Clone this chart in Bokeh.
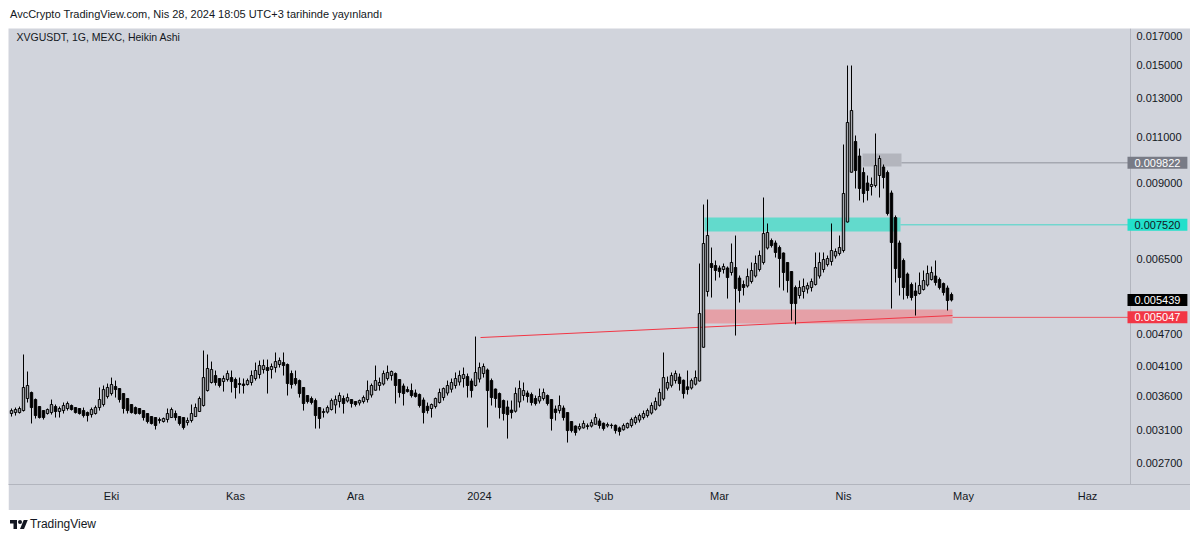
import pandas as pd
from bokeh.plotting import figure
from bokeh.models import (Range1d, FixedTicker, PrintfTickFormatter, Label, Div,
                          ColumnDataSource, LogAxis)
from bokeh.layouts import column
from bokeh.embed import file_html
from bokeh.resources import INLINE

# ---------------- data (Heikin Ashi candles, daily, XVG/USDT) ----------------
first_day = "2023-09-06"

ha_open = [
    .003335, .003349, .003349, .003378, .003558, .003651, .003542, .003437, .003378, .003335,
    .003349, .003437, .003364, .003378, .003408, .003452, .003422, .003408, .003378, .003349,
    .003320, .003335, .003422, .003467, .003589, .003635, .003747, .003714, .003635, .003558,
    .003467, .003422, .003408, .003378, .003335, .003292, .003278, .003236, .003222, .003250,
    .003278, .003335, .003292, .003278, .003208, .003236, .003292, .003364, .003452, .003682,
    .003812, .003928, .003878, .003828, .003861, .003894, .003861, .003795, .003787, .003779,
    .003812, .003878, .003945, .004031, .004066, .004031, .004066, .004119, .004154, .004119,
    .003962, .003878, .003844, .003731, .003604, .003558, .003527, .003422, .003349, .003356,
    .003393, .003460, .003512, .003558, .003520, .003542, .003512, .003490, .003512, .003542,
    .003612, .003687, .003763, .003787, .003878, .003928, .003962, .003861, .003755, .003698,
    .003682, .003643, .003620, .003535, .003441, .003408, .003437, .003497, .003573, .003643,
    .003703, .003763, .003820, .003878, .003911, .003836, .003763, .003869, .003962, .004023,
    .003844, .003706, .003635, .003527, .003430, .003386, .003368, .003505, .003604, .003643,
    .003620, .003558, .003520, .003558, .003604, .003542, .003400, .003378, .003415, .003349,
    .003222, .003160, .003122, .003135, .003164, .003159, .003184, .003230, .003198, .003162,
    .003171, .003170, .003135, .003110, .003138, .003167, .003208, .003243, .003278, .003306,
    .003342, .003397, .003455, .003552, .003719, .003766, .003844, .003903, .003849, .003741,
    .003723, .003784, .003837, .004437, .005642, .006365, .006310, .006243, .006203, .006243,
    .006123, .006256, .005979, .005814, .005777, .005890, .006031, .006203, .006393, .006804,
    .007028, .006953, .006819, .006660, .006393, .006149, .005739, .005545, .005642, .005702,
    .005739, .005814, .006031, .006203, .006337, .006420, .006574, .006645, .006732, .007612,
    .009432, .010767, .010115, .009420, .009005, .008870, .008908, .009300, .009646, .009420,
    .008625, .007761, .006953, .006448, .006083, .005814, .005654, .005593, .005690, .005802,
    .005940, .006031, .005940, .005839, .005727, .005569,
]

ha_high = [
    .003408, .003422, .003437, .004301, .003997, .003666, .003558, .003437, .003378, .003408,
    .003542, .003467, .003437, .003497, .003512, .003467, .003422, .003408, .003422, .003364,
    .003422, .003452, .003731, .003763, .003795, .003894, .003844, .003714, .003635, .003558,
    .003467, .003437, .003408, .003378, .003335, .003292, .003278, .003278, .003278, .003408,
    .003422, .003378, .003292, .003278, .003278, .003467, .003482, .003589, .004375, .004301,
    .004172, .004014, .003878, .003928, .004014, .004014, .003894, .003894, .003878, .003878,
    .004014, .004154, .004190, .004208, .004208, .004137, .004338, .004245, .004338, .004137,
    .004014, .004014, .003861, .003731, .003604, .003589, .003558, .003422, .003408, .003452,
    .003558, .003604, .003651, .003604, .003635, .003542, .003512, .003542, .003604, .003844,
    .003795, .004101, .003894, .004014, .004101, .004014, .003980, .003861, .003795, .003747,
    .003795, .003698, .003635, .003573, .003497, .003482, .003573, .003714, .003731, .003844,
    .003878, .003980, .004014, .004066, .003962, .003878, .004647, .004154, .004137, .004049,
    .003878, .003714, .003651, .003542, .003527, .003527, .003731, .003844, .003812, .003682,
    .003651, .003604, .003714, .003714, .003620, .003542, .003452, .003604, .003452, .003349,
    .003222, .003167, .003195, .003236, .003195, .003250, .003335, .003264, .003208, .003208,
    .003195, .003181, .003153, .003195, .003208, .003278, .003306, .003335, .003378, .003408,
    .003497, .003573, .003714, .004338, .003911, .003980, .004014, .003962, .003861, .004014,
    .003878, .004014, .006365, .008207, .008386, .006819, .006448, .006310, .006365, .006283,
    .006938, .007181, .006044, .005915, .006229, .006393, .006588, .006732, .008459, .007563,
    .007089, .007028, .006878, .006674, .006393, .006149, .005789, .005915, .005966, .005864,
    .005966, .006674, .006674, .006674, .006588, .007563, .006790, .007181, .010629, .014938,
    .014938, .011049, .010447, .009626, .009300, .009220, .011145, .010137, .009751, .009502,
    .008718, .007828, .007028, .006504, .006123, .005864, .005864, .006123, .006176, .006310,
    .006283, .006448, .005992, .005864, .005789, .005617,
]

ha_low = [
    .003292, .003306, .003335, .003364, .003497, .003195, .003264, .003264, .003250, .003320,
    .003320, .003278, .003278, .003335, .003378, .003378, .003335, .003320, .003278, .003222,
    .003278, .003320, .003378, .003437, .003558, .003604, .003573, .003497, .003335, .003335,
    .003335, .003320, .003320, .003236, .003195, .003181, .003113, .003195, .003208, .003208,
    .003278, .003236, .003167, .003113, .003167, .003208, .003292, .003364, .003437, .003666,
    .003795, .003763, .003731, .003666, .003828, .003651, .003558, .003635, .003635, .003763,
    .003763, .003844, .003878, .003962, .003635, .003878, .003980, .004066, .003928, .003604,
    .003714, .003763, .003573, .003378, .003482, .003467, .003126, .003126, .003278, .003335,
    .003378, .003335, .003422, .003335, .003497, .003422, .003437, .003452, .003482, .003497,
    .003573, .003682, .003682, .003763, .003844, .003844, .003482, .003573, .003452, .003651,
    .003573, .003573, .003422, .003195, .003335, .003278, .003408, .003482, .003527, .003604,
    .003651, .003714, .003763, .003731, .003573, .003573, .003747, .003812, .003894, .003140,
    .003452, .003422, .003264, .003236, .002994, .003264, .003349, .003422, .003527, .003497,
    .003452, .003452, .003482, .003527, .003452, .003099, .003236, .003335, .003236, .002943,
    .003073, .003033, .003099, .003126, .003113, .003140, .003181, .003126, .003099, .003140,
    .003126, .003059, .003033, .003099, .003126, .003140, .003181, .003208, .003250, .003278,
    .003320, .003378, .003437, .003527, .003682, .003731, .003795, .003682, .003558, .003620,
    .003698, .003763, .003828, .004432, .005521, .005497, .005915, .005992, .006096, .005473,
    .006044, .004667, .005380, .005545, .005739, .005839, .005992, .006149, .006337, .006761,
    .006819, .006531, .005739, .005666, .005617, .004979, .004894, .005473, .005473, .005593,
    .005642, .005789, .005966, .006123, .006283, .006310, .006504, .006588, .006674, .007595,
    .009420, .008794, .008350, .008278, .008350, .008532, .008832, .008459, .008794, .007828,
    .005243, .005864, .005545, .005450, .005473, .005427, .005087, .005569, .005666, .005764,
    .005915, .005789, .005690, .005545, .005198, .005404,
]

ha_close = [
    .003378, .003393, .003408, .003731, .003763, .003422, .003306, .003278, .003278, .003393,
    .003467, .003364, .003408, .003452, .003482, .003393, .003349, .003335, .003306, .003306,
    .003393, .003422, .003542, .003698, .003731, .003779, .003698, .003542, .003408, .003378,
    .003349, .003335, .003335, .003278, .003222, .003195, .003167, .003250, .003264, .003335,
    .003393, .003278, .003195, .003140, .003236, .003335, .003422, .003558, .003894, .004049,
    .004031, .003812, .003763, .003878, .003962, .003828, .003731, .003779, .003763, .003844,
    .003928, .004014, .004101, .004101, .004014, .004084, .004172, .004190, .004101, .003795,
    .003779, .003795, .003635, .003482, .003512, .003497, .003306, .003264, .003364, .003422,
    .003527, .003542, .003604, .003482, .003573, .003482, .003467, .003527, .003573, .003682,
    .003763, .003844, .003812, .003962, .003980, .003997, .003763, .003651, .003635, .003666,
    .003604, .003589, .003452, .003349, .003378, .003467, .003558, .003651, .003714, .003763,
    .003812, .003878, .003928, .003945, .003763, .003682, .003980, .004066, .004084, .003682,
    .003573, .003558, .003422, .003335, .003320, .003349, .003635, .003714, .003682, .003589,
    .003497, .003482, .003589, .003651, .003482, .003264, .003349, .003452, .003278, .003099,
    .003099, .003073, .003153, .003195, .003153, .003208, .003278, .003167, .003126, .003181,
    .003167, .003099, .003086, .003167, .003195, .003250, .003278, .003306, .003335, .003378,
    .003452, .003512, .003651, .003894, .003812, .003928, .003962, .003795, .003635, .003698,
    .003844, .003894, .005131, .006938, .007181, .006256, .006176, .006149, .006283, .005992,
    .006393, .005715, .005666, .005740, .006018, .006176, .006365, .006588, .007243, .007275,
    .006878, .006674, .006504, .006123, .005915, .005357, .005357, .005739, .005764, .005789,
    .005890, .006256, .006393, .006476, .006504, .006732, .006703, .006819, .008606, .011685,
    .012305, .009502, .008794, .008606, .008718, .008946, .009709, .010007, .009220, .007896,
    .006968, .006229, .005992, .005739, .005545, .005497, .005545, .005789, .005915, .006096,
    .006123, .005864, .005739, .005617, .005427, .005439,
]

month_starts = ["2023-10-01", "2023-11-01", "2023-12-01", "2024-01-01", "2024-02-01",
                "2024-03-01", "2024-04-01", "2024-05-01", "2024-06-01"]
month_labels = ["Eki", "Kas", "Ara", "2024", "Şub", "Mar", "Nis", "May", "Haz"]
price_ticks = [0.0027, 0.0031, 0.0036, 0.0041, 0.0047, 0.0065, 0.009, 0.011, 0.013, 0.015, 0.017]

# drawn zones: (start, end, bottom, top)
grey_zone = ("2024-04-05 18:00", "2024-04-15 12:00", 0.009667, 0.010230)
cyan_zone = ("2024-02-26 06:00", "2024-04-15 06:00", 0.007306, 0.007761)
red_zone = ("2024-02-26 06:00", "2024-04-28 06:00", 0.004915, 0.005220)
trend_line = (("2024-01-01 06:00", 0.004627), ("2024-04-28 06:00", 0.005087))
level_grey = 0.009822
level_cyan = 0.007520
level_red = 0.005047
last_price = 0.005439

view_start = "2023-09-05 06:00"     # left edge of the pane
scale_at = "2024-06-11 18:00"       # where the price scale begins
view_end = "2024-06-26 18:00"       # right edge (end of price-scale column)
price_low, price_high = 0.0024564, 0.017521

# ---------------- helpers ----------------
origin = pd.Timestamp("2023-10-01")


def day(ts):
    return (pd.Timestamp(ts) - origin) / pd.Timedelta(days=1)


dates = pd.date_range(first_day, periods=len(ha_close), freq="D")
xs = [day(d) for d in dates]
up = [c >= o for o, c in zip(ha_open, ha_close)]
src = ColumnDataSource(dict(
    x=xs, high=ha_high, low=ha_low,
    top=[max(o, c) for o, c in zip(ha_open, ha_close)],
    bottom=[min(o, c) for o, c in zip(ha_open, ha_close)],
    fill=["#a9abb1" if u else "#000000" for u in up],
))

BG = "#d1d4dc"
TXT = "#131722"
FONT = "Liberation Sans"
SEP = "#b2b5be"

xr = Range1d(day(view_start), day(view_end))
yr = Range1d(price_low, price_high)
scale_x = day(scale_at)

p = figure(width=1182, height=482, x_range=xr, y_range=yr, y_axis_type="log",
           y_axis_location=None, output_backend="svg", toolbar_location=None,
           min_border_left=0, min_border_top=0, min_border_right=0, min_border_bottom=26,
           background_fill_color=BG, border_fill_color=BG, outline_line_color=None)
p.grid.visible = False

month_ticks = [int(day(m)) for m in month_starts]

# time axis
xa = p.xaxis[0]
xa.ticker = FixedTicker(ticks=month_ticks)
xa.major_label_overrides = {t: lab for t, lab in zip(month_ticks, month_labels)}
xa.major_label_standoff = 5

# price axis drawn at the price-scale column
ya = LogAxis(fixed_location=scale_x, ticker=FixedTicker(ticks=price_ticks),
             formatter=PrintfTickFormatter(format="%.6f"), major_label_standoff=6)
p.add_layout(ya, "right")

for ax in (xa, ya):
    ax.axis_line_color = SEP
    ax.major_tick_in = 0
    ax.major_tick_out = 0
    ax.minor_tick_in = 0
    ax.minor_tick_out = 0
    ax.major_tick_line_color = None
    ax.minor_tick_line_color = None
    ax.major_label_text_font = FONT
    ax.major_label_text_font_size = "11px"
    ax.major_label_text_color = TXT

# zones
for zone, col in ((grey_zone, "#b3b5bd"), (cyan_zone, "#62dacc"), (red_zone, "#e5a0a7")):
    p.quad(left=[day(zone[0])], right=[day(zone[1])], bottom=[zone[2]], top=[zone[3]],
           fill_color=col, line_color=None)

# level lines to the price scale
p.segment(x0=[day(grey_zone[1])], y0=[level_grey], x1=[scale_x], y1=[level_grey],
          line_color="#8f929b", line_width=1)
p.segment(x0=[day(cyan_zone[1])], y0=[level_cyan], x1=[scale_x], y1=[level_cyan],
          line_color="#45d6c8", line_width=1)
p.segment(x0=[day(red_zone[1])], y0=[level_red], x1=[scale_x], y1=[level_red],
          line_color="#f23645", line_width=1, line_alpha=0.8)

# trend line
(t0, v0), (t1, v1) = trend_line
p.segment(x0=[day(t0)], y0=[v0], x1=[day(t1)], y1=[v1], line_color="#f23645", line_width=1)

# candles
p.segment(x0="x", y0="high", x1="x", y1="low", source=src, line_color="#000000", line_width=1)
p.vbar(x="x", width=0.6, top="top", bottom="bottom", source=src,
       fill_color="fill", line_color="#000000", line_width=1)

# header inside the pane
p.add_layout(Label(x=xr.start + 2, y=yr.end / 1.013, text="XVGUSDT, 1G, MEXC, Heikin Ashi",
                   text_baseline="top", text_align="left", text_font=FONT,
                   text_font_size="10.5px", text_color=TXT))

# price tags on the scale
for val, bg, fg in ((level_grey, "#787b86", "#ffffff"), (level_cyan, "#22e0cb", TXT),
                    (last_price, "#000000", "#ffffff"), (level_red, "#f23645", "#ffffff")):
    p.add_layout(Label(x=scale_x - 0.75, y=val, text=f"{val:.6f}", text_baseline="middle",
                       text_align="left", text_font=FONT, text_font_size="11px",
                       text_color=fg, background_fill_color=bg, padding=(7, 2)))

top = Div(text=('<div style="font-family:\'Liberation Sans\',sans-serif;font-size:11px;'
                'color:#131722;line-height:12px;padding-left:2px;white-space:nowrap;'
                'position:relative;top:-2px">'
                'AvcCrypto TradingView.com, Nis 28, 2024 18:05 UTC+3 tarihinde yayınlandı</div>'),
          width=1182, height=20, margin=0)

logo = ('<svg width="18" height="14" viewBox="0 0 36 28"><path d="M14 22H7V11H0V4h14v18z'
        'M28 22h-8l7.5-18h8L28 22z" fill="#131722"/><circle cx="20" cy="8" r="4" fill="#131722"/></svg>')
bottom = Div(text=('<div style="display:flex;align-items:center;padding:6px 0 0 2px;'
                   'font-family:\'Liberation Sans\',sans-serif;font-size:12px;color:#131722">'
                   + logo + '<span style="margin-left:2px">TradingView</span></div>'),
             width=1182, height=24, margin=0)

layout = column(top, p, bottom, spacing=0, margin=(8, 0, 0, 8))

with open("out.html", "w", encoding="utf-8") as f:
    f.write(file_html(layout, INLINE))
